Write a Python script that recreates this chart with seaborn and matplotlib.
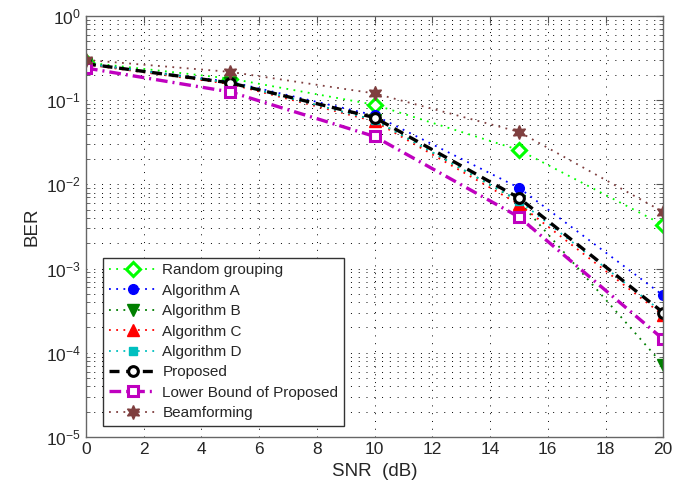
import matplotlib
matplotlib.use("Agg")
import matplotlib.pyplot as plt
import seaborn as sns
import numpy as np
import pandas as pd
from matplotlib.ticker import LogLocator, MultipleLocator, NullFormatter

snr = [0, 5, 10, 15, 20]
random_grouping = [0.28, 0.18, 0.088, 0.0256, 0.0033]
algorithm_a = [0.27, 0.165, 0.066, 0.0091, 0.00048]
algorithm_b = [0.27, 0.16, 0.058, 0.0063, 0.000072]
algorithm_c = [0.265, 0.155, 0.056, 0.0058, 0.00028]
algorithm_d = [0.27, 0.16, 0.058, 0.0064, 0.0003]
proposed = [0.27, 0.16, 0.062, 0.0069, 0.0003]
lower_bound = [0.24, 0.125, 0.037, 0.0041, 0.000145]
beamforming = [0.30, 0.216, 0.12, 0.042, 0.0047]

labels = ["Random grouping", "Algorithm A", "Algorithm B", "Algorithm C",
          "Algorithm D", "Proposed", "Lower Bound of Proposed", "Beamforming"]

sns.set_style("white")
plt.rcParams['font.family'] = ['Liberation Sans', 'DejaVu Sans']
plt.rcParams['mathtext.fontset'] = 'custom'
plt.rcParams['mathtext.rm'] = 'Liberation Sans'
plt.rcParams['mathtext.it'] = 'Liberation Sans'

fig = plt.figure(figsize=(6.88, 4.95), dpi=100)
ax = fig.add_axes([0.125, 0.117, 0.839, 0.851])

dot = (0, (1, 3))
styles = [
    dict(color="#00FF00", marker="D", ls=dot, lw=1.3, mfc="white", mec="#00FF00", ms=7, mew=2.2),
    dict(color="#0000FF", marker="o", ls=dot, lw=1.3, mfc="#0000FF", mec="#0000FF", ms=7, mew=1),
    dict(color="#007F00", marker="v", ls=dot, lw=1.3, mfc="#007F00", mec="#007F00", ms=8, mew=1),
    dict(color="#FF0000", marker="^", ls=dot, lw=1.3, mfc="#FF0000", mec="#FF0000", ms=8, mew=1),
    dict(color="#00BFBF", marker="s", ls=dot, lw=1.3, mfc="#00BFBF", mec="#00BFBF", ms=6, mew=1),
    dict(color="#000000", marker="o", ls=(0, (3, 2)), lw=2.4, mfc="white", mec="#000000", ms=7, mew=2.2),
    dict(color="#BF00BF", marker="s", ls=(0, (3.5, 1.5, 0.6, 1.5)), lw=2.4, mfc="white", mec="#BF00BF", ms=6.5, mew=2.2),
    dict(color="#7F3F3F", marker=(6, 1, 0), ls=dot, lw=1.3, mfc="#7F3F3F", mec="#7F3F3F", ms=10, mew=1),
]
series = [random_grouping, algorithm_a, algorithm_b, algorithm_c,
          algorithm_d, proposed, lower_bound, beamforming]

for vals, lab, st in zip(series, labels, styles):
    df = pd.DataFrame({"SNR": snr, "BER": vals})
    sns.lineplot(data=df, x="SNR", y="BER", ax=ax, label=lab,
                 color=st["color"], linestyle=st["ls"], linewidth=st["lw"],
                 marker=st["marker"], markersize=st["ms"],
                 markerfacecolor=st["mfc"], markeredgecolor=st["mec"],
                 markeredgewidth=st["mew"])

ax.set_yscale("log")
ax.set_xlim(0, 20)
ax.set_ylim(1e-5, 1)
ax.xaxis.set_major_locator(MultipleLocator(2))
ax.yaxis.set_major_locator(LogLocator(base=10, numticks=10))
ax.yaxis.set_minor_locator(LogLocator(base=10, subs=np.arange(2, 10), numticks=20))
ax.yaxis.set_minor_formatter(NullFormatter())

grid_ls = (0, (1, 7))
ax.grid(True, which="major", color="black", linestyle=grid_ls, linewidth=0.7)
ax.grid(True, which="minor", axis="y", color="black", linestyle=grid_ls, linewidth=0.7)
ax.set_axisbelow(True)

ax.tick_params(axis="both", which="major", direction="in", length=5, labelsize=12.5,
               top=True, right=True, color="#555555")
ax.tick_params(axis="y", which="minor", direction="in", length=3, left=True, right=True,
               color="#555555")
for sp in ax.spines.values():
    sp.set_color("#666666")
    sp.set_linewidth(1.0)

ax.set_xlabel("SNR  (dB)", fontsize=13.5)
ax.set_ylabel("BER", fontsize=13.5)

leg = ax.legend(loc="lower left", bbox_to_anchor=(0.025, 0.02), fontsize=11,
                frameon=True, fancybox=False, edgecolor="#333333", framealpha=1,
                handlelength=3.1, borderpad=0.35, labelspacing=0.42, handletextpad=0.4,
                borderaxespad=0.2)
leg.get_frame().set_linewidth(1.0)

fig.savefig("out.png", dpi=100)
